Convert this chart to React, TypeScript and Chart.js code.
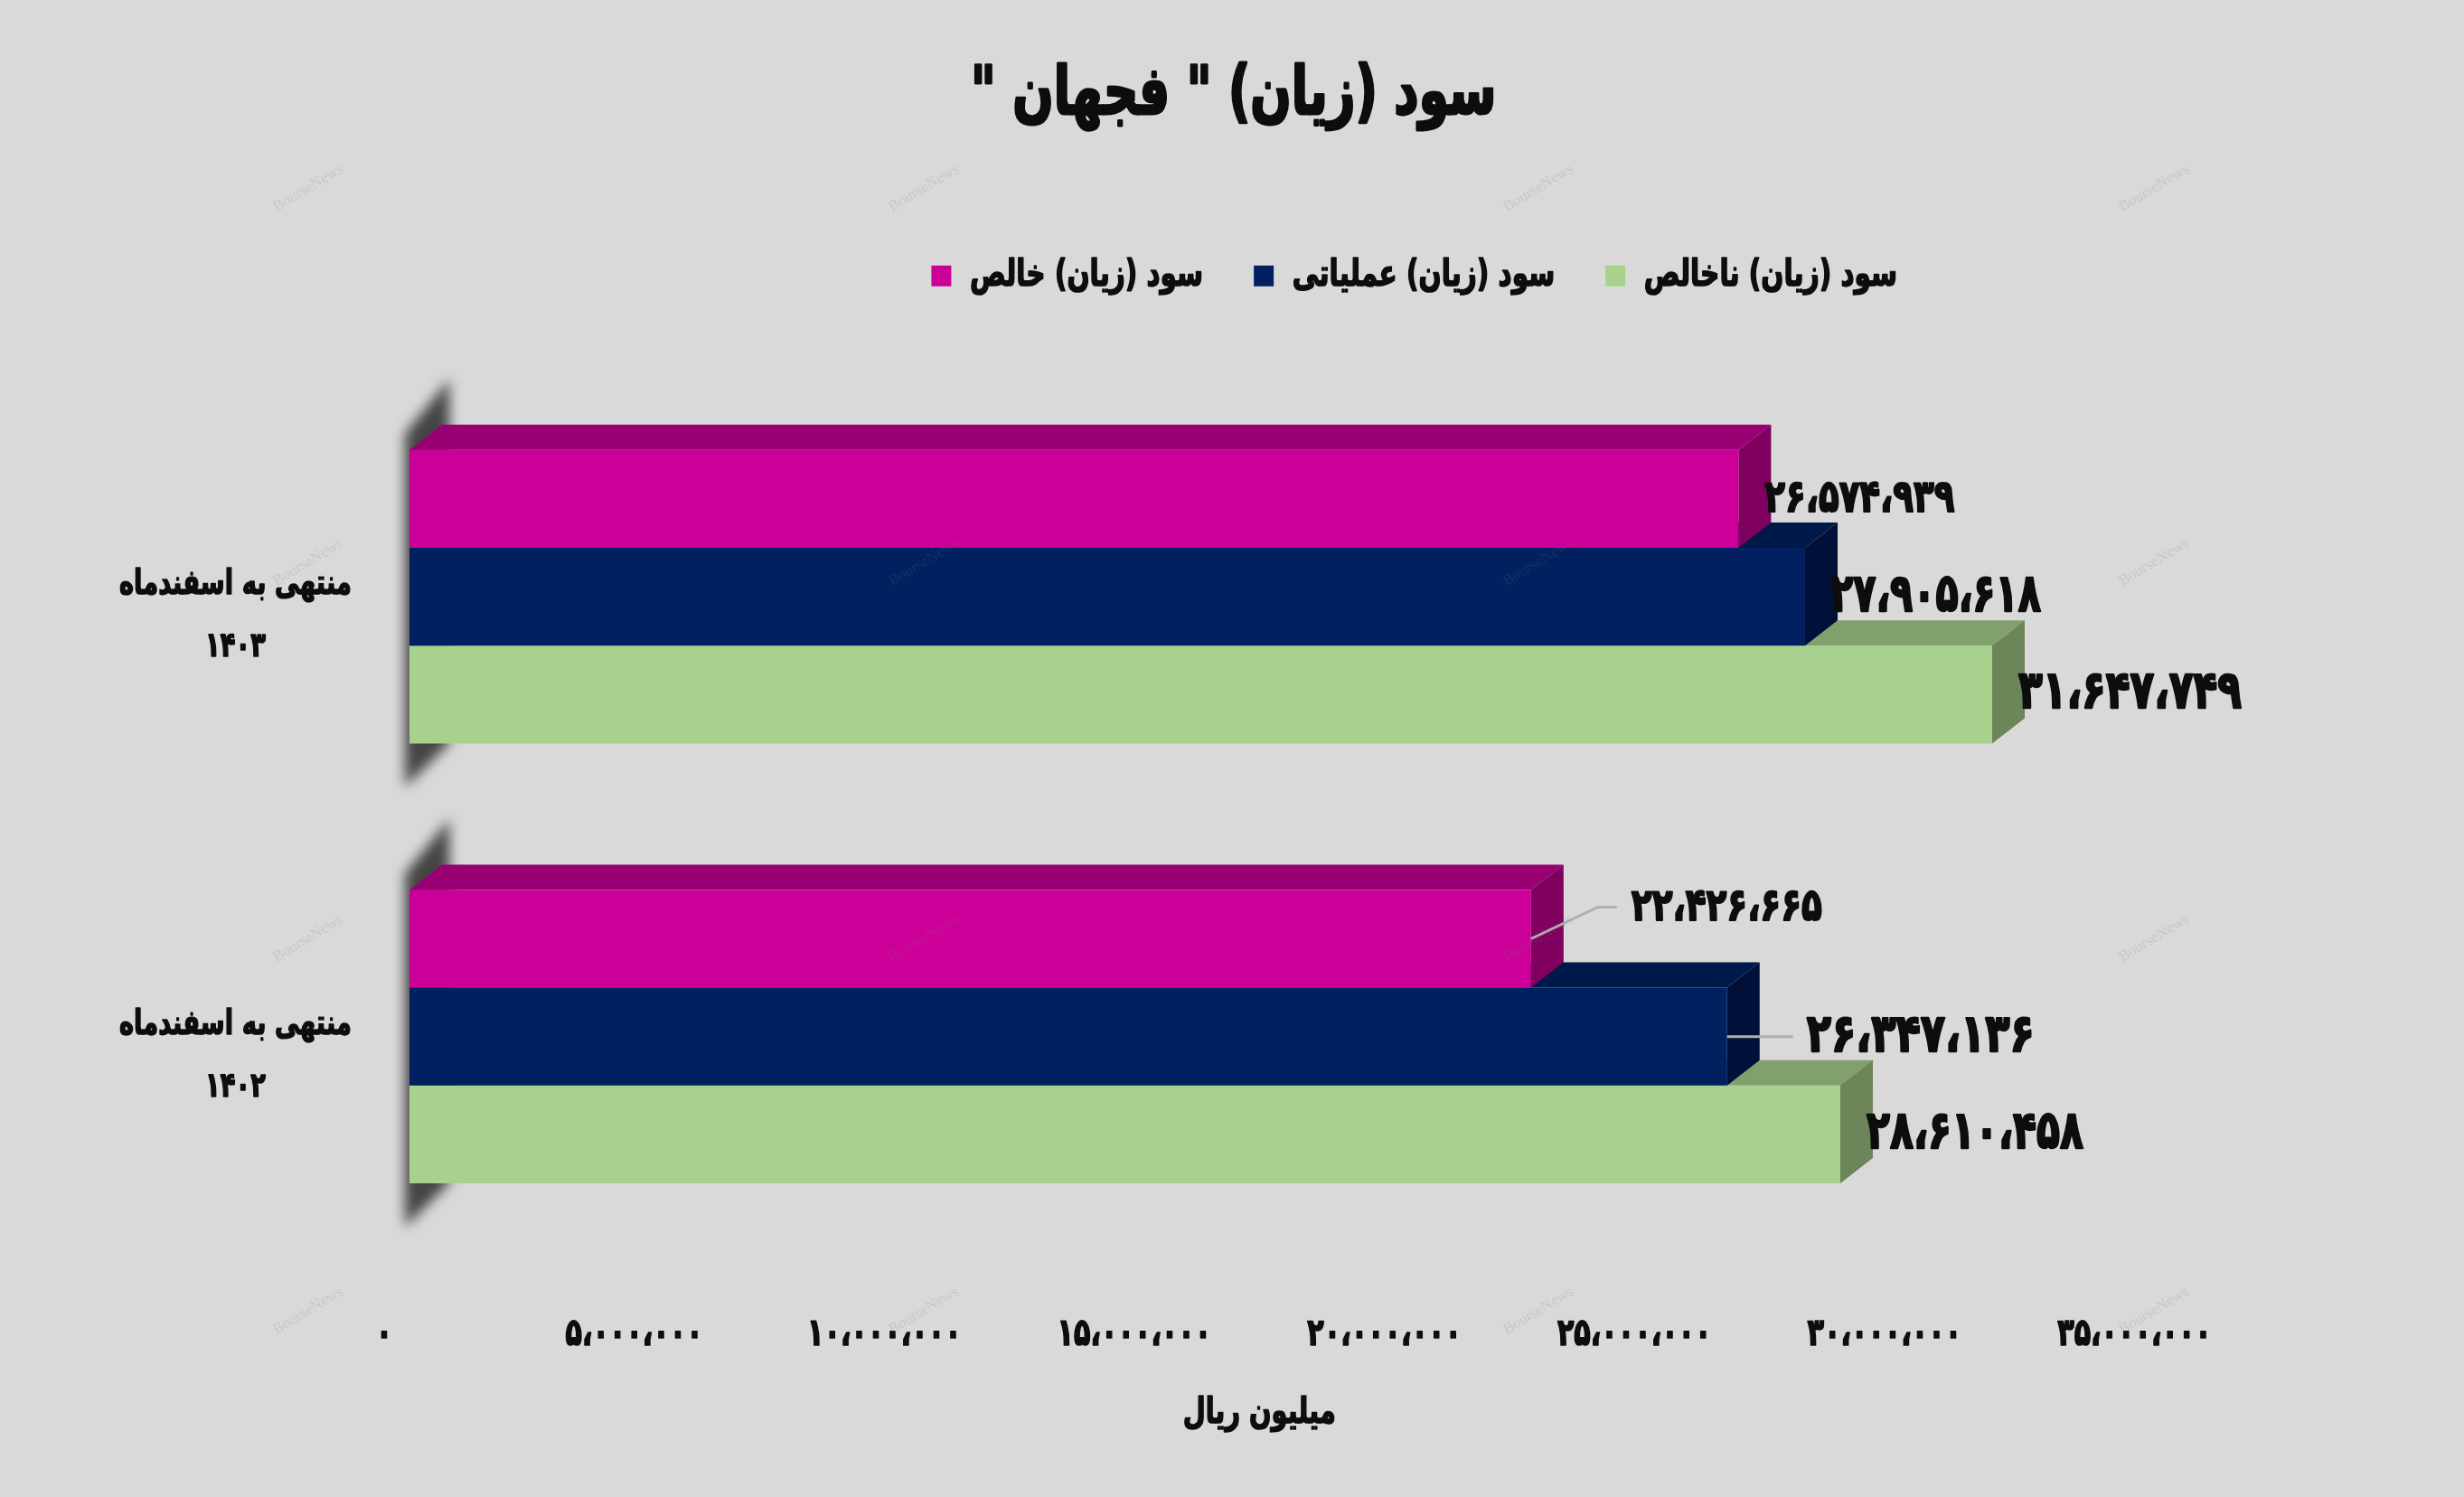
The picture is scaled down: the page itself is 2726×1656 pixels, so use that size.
import React, { useEffect, useRef } from "react";
import { Chart, registerables } from "chart.js";

Chart.register(...registerables);

const categories = [
  ["منتهی به اسفندماه", "۱۴۰۳"],
  ["منتهی به اسفندماه", "۱۴۰۲"],
];
const netNames = "سود (زیان) خالص";
const opNames = "سود (زیان) عملیاتی";
const grossNames = "سود (زیان) ناخالص";
const netProfit = [26574939, 22426665];
const operatingProfit = [27905618, 26347136];
const grossProfit = [31647749, 28610458];
const chartTitle = 'سود (زیان) " فجهان "';
const axisTitle = "میلیون ریال";
const watermark = "BourseNews";

const FONT = '"DejaVu Sans Condensed", "DejaVu Sans", sans-serif';
const INK = "#0d0d0d";
const SQUEEZE = 0.8;

const FACE = [
  { top: "#990073", side: "#80005f" },
  { top: "#00194b", side: "#001038" },
  { top: "#82a06c", side: "#6c8659" },
];

const toFa = (v: number) =>
  v
    .toLocaleString("en-US")
    .replace(/,/g, "،")
    .replace(/\d/g, (d) => "۰۱۲۳۴۵۶۷۸۹"[+d]);

// label placement relative to the bar end, per dataset then category
const LABEL_DX = [[29, 111], [28, 88], [29, 29]];
const LABEL_DY = [[1, -33], [1, 1], [0, 0]];
const LABEL_W = [[210, 211], [233, 252], [247, 240]];
const LABEL_SIZE = [[50, 50], [58, 58], [58, 58]];
const DEPTH_X = 36;
const DEPTH_Y = 28;

const poly = (ctx: CanvasRenderingContext2D, pts: number[][], fill: string) => {
  ctx.beginPath();
  pts.forEach((p, i) => (i ? ctx.lineTo(p[0], p[1]) : ctx.moveTo(p[0], p[1])));
  ctx.closePath();
  ctx.fillStyle = fill;
  ctx.fill();
};

const bars3d = {
  id: "bars3d",
  beforeInit(chart: any) {
    // the reference face is tall, narrow and very heavy: condense and embolden all chart text
    const ctx = chart.ctx;
    const fill = ctx.fillText.bind(ctx);
    const stroke = ctx.strokeText.bind(ctx);
    const measure = ctx.measureText.bind(ctx);
    ctx.fillText = (t: string, x: number, y: number) => {
      if (ctx.__plain) return fill(t, x, y);
      const m = /([\d.]+)px/.exec(ctx.font);
      const size = m ? parseFloat(m[1]) : 30;
      ctx.save();
      ctx.translate(x, y);
      ctx.scale(SQUEEZE, 1);
      ctx.strokeStyle = ctx.fillStyle;
      ctx.lineJoin = "round";
      ctx.lineWidth = size * 0.04;
      stroke(t, 0, 0);
      fill(t, 0, 0);
      ctx.restore();
    };
    ctx.measureText = (t: string) => {
      const r = measure(t);
      return ctx.__plain ? r : { width: r.width * SQUEEZE };
    };
  },
  afterLayout(chart: any) {
    const lg = chart.legend;
    if (lg) {
      lg.left += 370;
      lg.right += 370;
      lg.top -= 81;
      lg.bottom -= 81;
    }
    const tb = chart.titleBlock;
    if (tb) {
      tb.left += 170;
      tb.right += 170;
    }
    const sx = chart.scales.x;
    if (sx && !sx.__shifted) {
      sx.__shifted = true;
      const orig = sx.drawTitle;
      sx.drawTitle = function () {
        this.ctx.save();
        this.ctx.translate(-28, 0);
        orig.call(this);
        this.ctx.restore();
      };
    }
  },
  beforeDatasetsDraw(chart: any) {
    // blurred wall shadow behind each bar group
    const ctx = chart.ctx;
    const first = chart.getDatasetMeta(0).data;
    const last = chart.getDatasetMeta(2).data;
    first.forEach((el: any, i: number) => {
      const top = el.y - el.height / 2;
      const bot = last[i].y + last[i].height / 2;
      const left = el.base;
      ctx.save();
      ctx.filter = "blur(7px)";
      poly(
        ctx,
        [
          [left - 5, top - 18],
          [left + 44, top - 78],
          [left + 44, bot],
          [left - 5, bot + 48],
        ],
        "#444444"
      );
      ctx.restore();
    });
  },
  beforeDatasetDraw(chart: any, args: any) {
    const ctx = chart.ctx;
    const f = FACE[args.index];
    chart.getDatasetMeta(args.index).data.forEach((el: any) => {
      const t = el.y - el.height / 2;
      const b = el.y + el.height / 2;
      poly(ctx, [[el.base, t], [el.base + DEPTH_X, t - DEPTH_Y], [el.x + DEPTH_X, t - DEPTH_Y], [el.x, t]], f.top);
      poly(ctx, [[el.x, t], [el.x + DEPTH_X, t - DEPTH_Y], [el.x + DEPTH_X, b - DEPTH_Y], [el.x, b]], f.side);
    });
  },
  afterDatasetsDraw(chart: any) {
    const ctx = chart.ctx;
    chart.data.datasets.forEach((ds: any, d: number) => {
      chart.getDatasetMeta(d).data.forEach((el: any, i: number) => {
        const txt = toFa(ds.data[i]);
        ctx.save();
        ctx.font = `bold ${LABEL_SIZE[d][i]}px ${FONT}`;
        ctx.textAlign = "left";
        ctx.textBaseline = "middle";
        ctx.fillStyle = INK;
        const w = ctx.measureText(txt).width;
        ctx.translate(el.x + LABEL_DX[d][i], el.y + LABEL_DY[d][i]);
        ctx.scale(LABEL_W[d][i] / w, 1);
        ctx.fillText(txt, 0, 0);
        ctx.restore();
      });
    });
    // leader lines for the two labels pulled away from their bars
    const m = chart.getDatasetMeta(0).data[1];
    const n = chart.getDatasetMeta(1).data[1];
    ctx.save();
    ctx.strokeStyle = "#b0b0b0";
    ctx.lineWidth = 3;
    ctx.beginPath();
    ctx.moveTo(m.x, m.y);
    ctx.lineTo(m.x + 74, m.y - 35);
    ctx.lineTo(m.x + 95, m.y - 35);
    ctx.moveTo(n.x, n.y);
    ctx.lineTo(n.x + 73, n.y);
    ctx.stroke();
    ctx.restore();
  },
  afterDraw(chart: any) {
    const ctx = chart.ctx;
    ctx.save();
    ctx.__plain = true;
    ctx.font = '17px "Liberation Serif", serif';
    ctx.fillStyle = "rgba(120,120,120,0.18)";
    ctx.textAlign = "center";
    ctx.textBaseline = "middle";
    ctx.direction = "ltr";
    [341, 1022, 1702, 2383].forEach((x) =>
      [208, 622, 1038, 1450].forEach((y) => {
        ctx.save();
        ctx.translate(x, y);
        ctx.rotate(-0.54);
        ctx.fillText(watermark, 0, 0);
        ctx.restore();
      })
    );
    ctx.__plain = false;
    ctx.restore();
  },
};

export default function App() {
  const ref = useRef<HTMLCanvasElement>(null);
  useEffect(() => {
    const chart = new Chart(ref.current as HTMLCanvasElement, {
      type: "bar",
      data: {
        labels: categories,
        datasets: [
          { label: netNames, data: netProfit, backgroundColor: "#cc0099" },
          { label: opNames, data: operatingProfit, backgroundColor: "#002060" },
          { label: grossNames, data: grossProfit, backgroundColor: "#a9d18e" },
        ],
      },
      options: {
        indexAxis: "y",
        responsive: false,
        animation: false,
        devicePixelRatio: 1,
        events: [],
        layout: { padding: { left: 0, right: 2726 - 2389.5, top: 0, bottom: 0 } },
        datasets: { bar: { categoryPercentage: 0.667, barPercentage: 1, borderWidth: 0 } },
        scales: {
          x: {
            min: 0,
            max: 35000000,
            grid: { display: false },
            border: { display: false },
            afterFit: (s: any) => {
              s.height = 266;
            },
            ticks: {
              stepSize: 5000000,
              maxRotation: 0,
              autoSkip: false,
              labelOffset: -28,
              padding: 54,
              color: INK,
              font: { family: FONT, weight: "bold", size: 42 },
              callback: (v: any) => toFa(+v),
            },
            title: {
              display: true,
              text: axisTitle,
              color: INK,
              font: { family: FONT, weight: "bold", size: 40 },
              padding: { top: 0, bottom: 68 },
            },
          },
          y: {
            grid: { display: false },
            border: { display: false },
            afterFit: (s: any) => {
              s.width = 453;
            },
            ticks: {
              crossAlign: "center",
              padding: 56,
              labelOffset: 22,
              color: INK,
              font: { family: FONT, weight: "bold", size: 38, lineHeight: 1.816 },
            },
          },
        },
        plugins: {
          tooltip: { enabled: false },
          title: {
            display: true,
            text: chartTitle,
            color: INK,
            font: { family: FONT, weight: "bold", size: 74 },
            padding: { top: 62, bottom: 159 },
          },
          legend: {
            position: "top",
            labels: {
              boxWidth: 22,
              boxHeight: 23,
              padding: 56,
              color: INK,
              font: { family: FONT, weight: "bold", size: 41 },
            },
          },
        },
      },
      plugins: [bars3d],
    } as any);
    return () => chart.destroy();
  }, []);
  return (
    <div style={{ position: "fixed", left: 0, top: 0, width: 2726, height: 1656, background: "#d9d9d9" }}>
      <canvas ref={ref} width={2726} height={1656} style={{ display: "block", direction: "rtl" }} />
    </div>
  );
}
